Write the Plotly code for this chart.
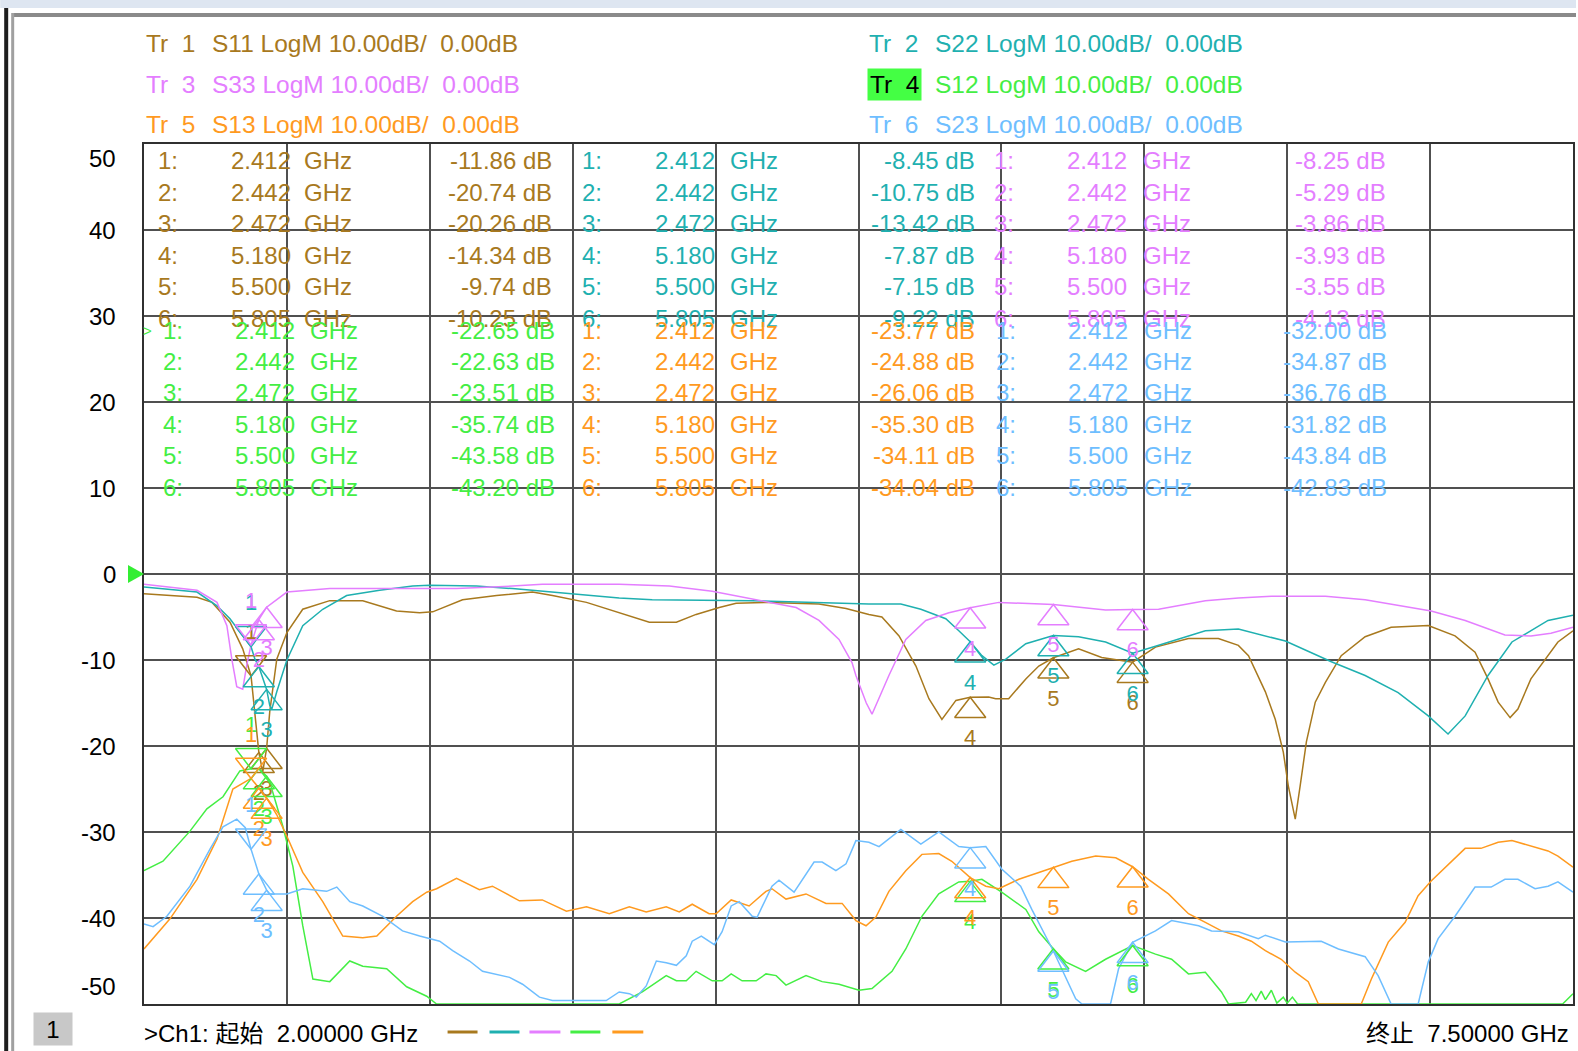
import plotly.graph_objects as go

# ---------------------------------------------------------------------
# Geometry of the VNA screen (pixels)
# ---------------------------------------------------------------------
WIDTH, HEIGHT = 1578, 1051
PLOT_L, PLOT_R, PLOT_T, PLOT_B = 144, 1575, 144, 1004
F_START, F_STOP = 2.0, 7.5
DB_MAX, DB_MIN = 50, -50
PX_PER_DB = (PLOT_B - PLOT_T) / (DB_MAX - DB_MIN)

FONT = "Liberation Sans, Arial, Noto Sans CJK SC, sans-serif"

BROWN = "#A8791E"
TEAL = "#1FB0B0"
VIOLET = "#E47EFF"
GREEN = "#44EE44"
ORANGE = "#FF9A1F"
SKY = "#6EBEFF"

# ---------------------------------------------------------------------
# Data (GHz / dB)
# ---------------------------------------------------------------------
S11_FREQ = [2.000, 2.204, 2.262, 2.331, 2.380, 2.412, 2.442, 2.457, 2.472, 2.484, 2.511, 2.550, 2.611, 2.715,
            2.842, 2.972, 3.061, 3.111, 3.226, 3.357, 3.495, 3.572, 3.703, 3.829, 3.945, 4.049, 4.125, 4.214,
            4.279, 4.406, 4.598, 4.702, 4.790, 4.840, 4.906, 4.971, 5.021, 5.071, 5.125, 5.180, 5.251, 5.278,
            5.328, 5.394, 5.444, 5.500, 5.597, 5.686, 5.805, 5.893, 6.020, 6.135, 6.212, 6.251, 6.316, 6.354,
            6.385, 6.404, 6.431, 6.450, 6.474, 6.508, 6.547, 6.608, 6.700, 6.800, 6.943, 7.046, 7.123, 7.173,
            7.212, 7.258, 7.288, 7.338, 7.392, 7.442, 7.500]
S11_DB = [-2.3, -2.7, -3.3, -5.6, -8.7, -11.86, -20.74, -23.0, -20.26, -16.0, -9.9, -6.8, -4.1, -3.1,
          -3.1, -4.3, -4.5, -4.4, -3.0, -2.5, -2.1, -2.5, -3.3, -4.5, -5.6, -5.6, -4.7, -3.9,
          -3.4, -3.3, -3.5, -4.0, -4.7, -5.0, -7.2, -10.7, -14.5, -16.9, -14.7, -14.34, -14.3, -14.5,
          -14.5, -12.2, -10.7, -9.74, -8.7, -9.7, -10.25, -8.5, -7.5, -7.5, -8.3, -9.5, -13.7, -16.9,
          -20.7, -24.6, -28.5, -24.6, -19.5, -14.9, -12.6, -9.5, -7.3, -6.2, -6.0, -7.2, -9.1, -12.2,
          -14.9, -16.7, -15.7, -12.2, -9.9, -7.9, -6.6]

S22_FREQ = [2.000, 2.204, 2.281, 2.331, 2.380, 2.412, 2.427, 2.442, 2.472, 2.484, 2.492, 2.511, 2.550, 2.611,
            2.688, 2.780, 2.907, 3.034, 3.099, 3.280, 3.418, 3.572, 3.703, 3.829, 3.956, 4.341, 4.790, 4.913,
            4.990, 5.086, 5.136, 5.180, 5.225, 5.271, 5.317, 5.394, 5.500, 5.597, 5.701, 5.805, 5.893, 5.955,
            6.085, 6.212, 6.393, 6.570, 6.700, 6.827, 6.943, 7.019, 7.085, 7.173, 7.265, 7.404, 7.500]
S22_DB = [-1.5, -2.1, -3.7, -5.2, -7.2, -8.45, -9.9, -10.75, -13.42, -15.3, -15.7, -13.7, -10.0, -6.0,
          -4.1, -2.5, -1.9, -1.4, -1.3, -1.4, -1.7, -2.1, -2.5, -2.8, -3.0, -3.1, -3.5, -3.5,
          -4.1, -5.2, -6.6, -7.87, -9.5, -10.6, -9.9, -8.1, -7.15, -7.3, -7.9, -9.22, -8.4, -7.8,
          -6.6, -6.4, -7.8, -10.2, -11.8, -13.8, -16.5, -18.6, -16.5, -11.8, -7.9, -5.4, -4.8]

S33_FREQ = [2.000, 2.204, 2.281, 2.319, 2.338, 2.357, 2.380, 2.396, 2.412, 2.442, 2.472, 2.550, 2.715, 3.099,
            3.203, 3.418, 3.533, 3.829, 4.022, 4.187, 4.341, 4.510, 4.598, 4.675, 4.725, 4.740, 4.780, 4.802,
            4.867, 4.932, 5.009, 5.098, 5.180, 5.290, 5.500, 5.701, 5.805, 5.905, 6.085, 6.212, 6.339, 6.547,
            6.700, 6.954, 7.085, 7.238, 7.338, 7.415, 7.500]
S33_DB = [-1.2, -1.9, -3.3, -6.0, -9.9, -13.1, -13.4, -10.5, -8.25, -5.29, -3.86, -2.1, -1.7, -1.7,
          -1.7, -1.4, -1.2, -1.2, -1.4, -2.0, -2.9, -3.9, -5.4, -7.6, -10.3, -11.8, -15.0, -16.3,
          -11.8, -7.6, -5.4, -4.5, -3.93, -3.3, -3.55, -4.2, -4.13, -4.1, -3.1, -2.8, -2.6, -2.6,
          -3.0, -4.3, -5.4, -7.1, -7.2, -6.9, -6.2]

S12_FREQ = [2.000, 2.073, 2.177, 2.242, 2.304, 2.369, 2.412, 2.442, 2.472, 2.484, 2.534, 2.573, 2.611, 2.650,
            2.715, 2.792, 2.842, 2.934, 3.011, 3.088, 3.126, 3.829, 3.918, 4.010, 4.049, 4.087, 4.125, 4.187,
            4.225, 4.260, 4.302, 4.356, 4.394, 4.433, 4.471, 4.548, 4.610, 4.675, 4.752, 4.802, 4.879, 4.932,
            4.994, 5.059, 5.136, 5.180, 5.225, 5.301, 5.394, 5.444, 5.500, 5.547, 5.624, 5.701, 5.805, 5.893,
            5.955, 6.020, 6.085, 6.147, 6.174, 6.240, 6.262, 6.280, 6.300, 6.316, 6.339, 6.360, 6.385, 6.400,
            6.420, 6.440, 7.460, 7.500]
S12_DB = [-34.5, -33.4, -29.9, -27.3, -25.9, -22.9, -22.65, -22.63, -23.51, -24.2, -29.3, -34.0, -40.9, -47.1,
          -47.4, -45.0, -45.6, -45.9, -48.0, -49.1, -50.0, -50.0, -48.6, -46.7, -47.3, -47.3, -46.2, -47.3,
          -47.3, -46.5, -47.3, -47.3, -46.5, -46.7, -47.8, -46.7, -47.4, -47.7, -48.4, -48.2, -46.2, -43.6,
          -39.8, -37.2, -35.8, -35.74, -35.5, -37.0, -39.0, -41.6, -43.58, -45.1, -46.2, -44.8, -43.2, -44.2,
          -44.8, -46.5, -46.3, -48.6, -50.0, -49.8, -48.8, -49.6, -48.5, -49.5, -48.4, -49.9, -49.2, -49.9,
          -49.2, -50.0, -50.0, -48.8]

S13_FREQ = [2.000, 2.100, 2.204, 2.281, 2.342, 2.412, 2.442, 2.472, 2.511, 2.550, 2.611, 2.688, 2.765, 2.842,
            2.896, 2.972, 3.034, 3.088, 3.126, 3.203, 3.291, 3.341, 3.445, 3.533, 3.626, 3.703, 3.791, 3.868,
            3.933, 4.010, 4.060, 4.110, 4.175, 4.202, 4.260, 4.329, 4.394, 4.417, 4.471, 4.548, 4.625, 4.687,
            4.740, 4.779, 4.817, 4.867, 4.932, 4.994, 5.059, 5.109, 5.180, 5.240, 5.290, 5.367, 5.444, 5.500,
            5.571, 5.663, 5.740, 5.805, 5.866, 5.943, 6.020, 6.085, 6.147, 6.212, 6.262, 6.316, 6.377, 6.431,
            6.481, 6.520, 6.685, 6.724, 6.789, 6.854, 6.904, 6.954, 7.046, 7.085, 7.146, 7.212, 7.265, 7.338,
            7.404, 7.442, 7.500]
S13_DB = [-43.6, -40.1, -35.5, -30.8, -25.0, -23.77, -24.88, -26.06, -28.0, -30.5, -34.7, -38.1, -42.1, -42.3,
          -42.1, -39.8, -38.1, -37.0, -36.6, -35.4, -36.7, -36.3, -38.0, -37.9, -39.2, -38.7, -39.5, -38.7,
          -39.3, -38.7, -39.3, -38.4, -39.5, -39.5, -37.9, -38.6, -36.9, -36.6, -37.8, -37.2, -38.3, -38.3,
          -40.3, -40.9, -39.9, -36.9, -34.5, -32.6, -32.5, -33.4, -35.30, -36.3, -36.6, -35.5, -34.7, -34.11,
          -33.4, -32.8, -33.0, -34.04, -35.5, -37.2, -39.5, -40.5, -41.5, -42.1, -42.7, -43.8, -44.8, -46.3,
          -47.4, -50.0, -50.0, -47.1, -42.8, -40.5, -37.4, -35.7, -33.1, -31.9, -31.9, -31.2, -31.0, -31.6,
          -32.2, -32.8, -34.1]

S23_FREQ = [2.000, 2.035, 2.088, 2.177, 2.254, 2.304, 2.357, 2.390, 2.412, 2.442, 2.472, 2.484, 2.550, 2.611,
            2.703, 2.742, 2.792, 2.842, 2.919, 2.995, 3.061, 3.138, 3.188, 3.253, 3.303, 3.407, 3.457, 3.522,
            3.572, 3.779, 3.829, 3.868, 3.895, 3.933, 3.972, 4.010, 4.049, 4.087, 4.110, 4.145, 4.195, 4.225,
            4.260, 4.291, 4.341, 4.360, 4.417, 4.444, 4.502, 4.579, 4.610, 4.663, 4.702, 4.740, 4.790, 4.829,
            4.913, 4.990, 5.059, 5.136, 5.180, 5.240, 5.301, 5.374, 5.417, 5.500, 5.586, 5.610, 5.720, 5.751,
            5.805, 5.893, 5.955, 6.059, 6.109, 6.212, 6.289, 6.316, 6.393, 6.531, 6.597, 6.700, 6.750, 6.800,
            6.904, 6.943, 6.981, 7.046, 7.123, 7.185, 7.238, 7.288, 7.354, 7.404, 7.442, 7.500]
S23_DB = [-40.7, -41.0, -39.8, -36.3, -32.0, -29.4, -28.5, -29.5, -32.00, -34.87, -36.76, -37.2, -37.2, -36.6,
          -36.9, -36.4, -38.1, -38.6, -39.8, -41.5, -42.1, -42.7, -43.8, -45.0, -46.2, -46.9, -47.7, -49.2,
          -49.6, -49.6, -48.6, -48.8, -49.2, -47.9, -45.0, -45.2, -45.5, -44.4, -42.7, -42.1, -43.1, -41.6,
          -38.6, -38.1, -39.8, -39.9, -36.3, -35.6, -37.0, -33.5, -33.5, -34.5, -33.7, -31.0, -31.2, -31.7,
          -29.7, -31.4, -30.0, -31.7, -31.82, -31.7, -34.3, -36.3, -39.0, -43.84, -49.4, -50.0, -50.0, -45.9,
          -42.83, -41.5, -40.3, -40.9, -41.5, -41.6, -42.4, -42.0, -42.8, -42.7, -43.6, -44.5, -46.7, -50.0,
          -50.0, -45.1, -42.4, -39.8, -36.4, -36.4, -35.5, -35.5, -36.6, -36.3, -35.8, -37.0]

# marker readout
MARKER_FREQ = [2.412, 2.442, 2.472, 5.180, 5.500, 5.805]
MARKER_FREQ_TEXT = ["2.412", "2.442", "2.472", "5.180", "5.500", "5.805"]
S11_MARKERS = [-11.86, -20.74, -20.26, -14.34, -9.74, -10.25]
S22_MARKERS = [-8.45, -10.75, -13.42, -7.87, -7.15, -9.22]
S33_MARKERS = [-8.25, -5.29, -3.86, -3.93, -3.55, -4.13]
S12_MARKERS = [-22.65, -22.63, -23.51, -35.74, -43.58, -43.20]
S13_MARKERS = [-23.77, -24.88, -26.06, -35.30, -34.11, -34.04]
S23_MARKERS = [-32.00, -34.87, -36.76, -31.82, -43.84, -42.83]

Y_TICKS = [50, 40, 30, 20, 10, 0, -10, -20, -30, -40, -50]

TRACES = [
    # (Tr number, parameter, freq, dB, markers, colour)
    (1, "S11", S11_FREQ, S11_DB, S11_MARKERS, BROWN),
    (2, "S22", S22_FREQ, S22_DB, S22_MARKERS, TEAL),
    (3, "S33", S33_FREQ, S33_DB, S33_MARKERS, VIOLET),
    (4, "S12", S12_FREQ, S12_DB, S12_MARKERS, GREEN),
    (5, "S13", S13_FREQ, S13_DB, S13_MARKERS, ORANGE),
    (6, "S23", S23_FREQ, S23_DB, S23_MARKERS, SKY),
]


# ---------------------------------------------------------------------
# helpers
# ---------------------------------------------------------------------
def px_x(x):
    return (x - PLOT_L) / (PLOT_R - PLOT_L)


def px_y(y):
    return (PLOT_B - y) / (PLOT_B - PLOT_T)


annotations = []
shapes = []


def text_at(x, y, text, color, size=24, anchor="left", **kw):
    annotations.append(dict(
        x=px_x(x), y=px_y(y), xref="paper", yref="paper", text=text, showarrow=False,
        xanchor=anchor, yanchor="middle", font=dict(family=FONT, size=size, color=color), **kw,
    ))


def rect_px(x0, y0, x1, y1, color):
    shapes.append(dict(type="rect", xref="paper", yref="paper", x0=px_x(x0), x1=px_x(x1),
                       y0=px_y(y0), y1=px_y(y1), fillcolor=color, line=dict(width=0), layer="below"))


# ---------------------------------------------------------------------
# figure
# ---------------------------------------------------------------------
fig = go.Figure()

for num, name, freq, db, marks, color in TRACES:
    fig.add_trace(go.Scatter(x=freq, y=db, mode="lines", line=dict(color=color, width=1.5),
                             hoverinfo="skip", showlegend=False))

MARK_SIZE = 27
MARK_R = MARK_SIZE / 2
for num, name, freq, db, marks, color in TRACES:
    # marker 1 is the active one: open triangle pointing down, tip on the trace, number above
    fig.add_trace(go.Scatter(
        x=MARKER_FREQ[:1], y=[v + MARK_R / PX_PER_DB for v in marks[:1]],
        mode="markers+text", text=["1"], textposition="top center",
        textfont=dict(family=FONT, size=22, color=color),
        marker=dict(symbol="triangle-down-open", size=MARK_SIZE, color=color, line=dict(width=1.5, color=color)),
        cliponaxis=False, hoverinfo="skip", showlegend=False,
    ))
    # markers 2..6: open triangle pointing up, tip on the trace, number below
    fig.add_trace(go.Scatter(
        x=MARKER_FREQ[1:], y=[v - MARK_R / PX_PER_DB for v in marks[1:]],
        mode="markers+text", text=[str(i) for i in range(2, 7)], textposition="bottom center",
        textfont=dict(family=FONT, size=22, color=color),
        marker=dict(symbol="triangle-up-open", size=MARK_SIZE, color=color, line=dict(width=1.5, color=color)),
        cliponaxis=False, hoverinfo="skip", showlegend=False,
    ))

# trace headers
HEADER_POS = {1: (144, 210, 43.5), 2: (868, 934, 43.5), 3: (144, 210, 84),
              4: (868, 934, 84), 5: (144, 210, 124.5), 6: (868, 934, 124.5)}
NBSP = "\u00a0"
for num, name, freq, db, marks, color in TRACES:
    xt, xs, y = HEADER_POS[num]
    if num == 4:
        text_at(xt, y, f"Tr{NBSP}{NBSP}{num}", "#000000", size=24.5, bgcolor="#44FF44", borderpad=2)
    else:
        text_at(xt, y, f"Tr{NBSP}{NBSP}{num}", color, size=24.5)
    text_at(xs, y, f"{name} LogM 10.00dB/{NBSP}{NBSP}0.00dB", color, size=24.5)

# marker tables
TABLE_POS = {  # idx-x, freq-x, unit-x, value right edge, first row y
    1: (156, 229, 302, 555, 161), 2: (581, 654, 729, 978, 161), 3: (993, 1066, 1142, 1390, 161),
    4: (161, 233, 308, 558, 330), 5: (581, 654, 729, 978, 330), 6: (995, 1067, 1143, 1391, 330),
}
ROW_STEP = 31.4
for num, name, freq, db, marks, color in TRACES:
    xi, xf, xu, xv, y0 = TABLE_POS[num]
    for i, (ftxt, val) in enumerate(zip(MARKER_FREQ_TEXT, marks)):
        y = y0 + i * ROW_STEP
        text_at(xi, y, f"{i + 1}:", color)
        text_at(xf, y, ftxt, color)
        text_at(xu, y, "GHz", color)
        text_at(xv, y, f"{val:.2f} dB", color, anchor="right")
text_at(141, 330, "&gt;", GREEN, size=15)

# y tick labels (50 / -50 pulled inside the frame, as on the instrument)
for v in Y_TICKS:
    shift = -14 if v == DB_MAX else (18 if v == DB_MIN else 0)
    annotations.append(dict(x=px_x(118), y=v, xref="paper", yref="y", yshift=shift, text=str(v),
                            showarrow=False, xanchor="right", yanchor="middle",
                            font=dict(family=FONT, size=24, color="#000000")))

# reference level pointer at 0 dB
shapes.append(dict(type="path", xref="paper", yref="y", xsizemode="pixel", ysizemode="pixel",
                   xanchor=0, yanchor=0, path="M -16 9 L 0 0 L -16 -9 Z",
                   fillcolor="#33EE33", line=dict(width=0)))

# window decoration
rect_px(0, 0, WIDTH, 8, "#DEE6F1")
rect_px(12, 13, WIDTH, 17, "#8A8A8A")
rect_px(4, 8, 8, HEIGHT, "#1E1E1E")
rect_px(11, 13, 14, HEIGHT, "#A0A0A0")

# status line
text_at(53, 1029, "1", "#000000", size=24, anchor="center", bgcolor="#C8C8C8", width=36, height=30)
text_at(142, 1033, f"&gt;Ch1:{NBSP}起始{NBSP}{NBSP}2.00000 GHz", "#000000", size=24)
for (x0, x1), color in zip([(448, 478), (490, 520), (530, 561), (571, 601), (613, 644)],
                           [BROWN, TEAL, VIOLET, GREEN, ORANGE]):
    shapes.append(dict(type="line", xref="paper", yref="paper", x0=px_x(x0), x1=px_x(x1),
                       y0=px_y(1032), y1=px_y(1032), line=dict(color=color, width=3)))
text_at(1573, 1033, f"终止{NBSP}{NBSP}7.50000 GHz", "#000000", size=24, anchor="right")

fig.update_layout(
    width=WIDTH,
    height=HEIGHT,
    margin=dict(l=PLOT_L, r=WIDTH - PLOT_R, t=PLOT_T, b=HEIGHT - PLOT_B),
    paper_bgcolor="#FFFFFF",
    plot_bgcolor="#FFFFFF",
    showlegend=False,
    hovermode=False,
    annotations=annotations,
    shapes=shapes,
)
fig.update_xaxes(range=[F_START, F_STOP], tick0=F_START, dtick=(F_STOP - F_START) / 10,
                 showticklabels=False, ticks="", showgrid=True, gridcolor="#505050", gridwidth=2,
                 zeroline=False, showline=True, mirror=True, linecolor="#303030", linewidth=2)
fig.update_yaxes(range=[DB_MIN, DB_MAX], tick0=0, dtick=10,
                 showticklabels=False, ticks="", showgrid=True, gridcolor="#505050", gridwidth=2,
                 zeroline=False, showline=True, mirror=True, linecolor="#303030", linewidth=2)

fig.write_html("out.html", config={"displayModeBar": False},
               post_script="document.body.style.margin='0';document.body.style.overflow='hidden';")
